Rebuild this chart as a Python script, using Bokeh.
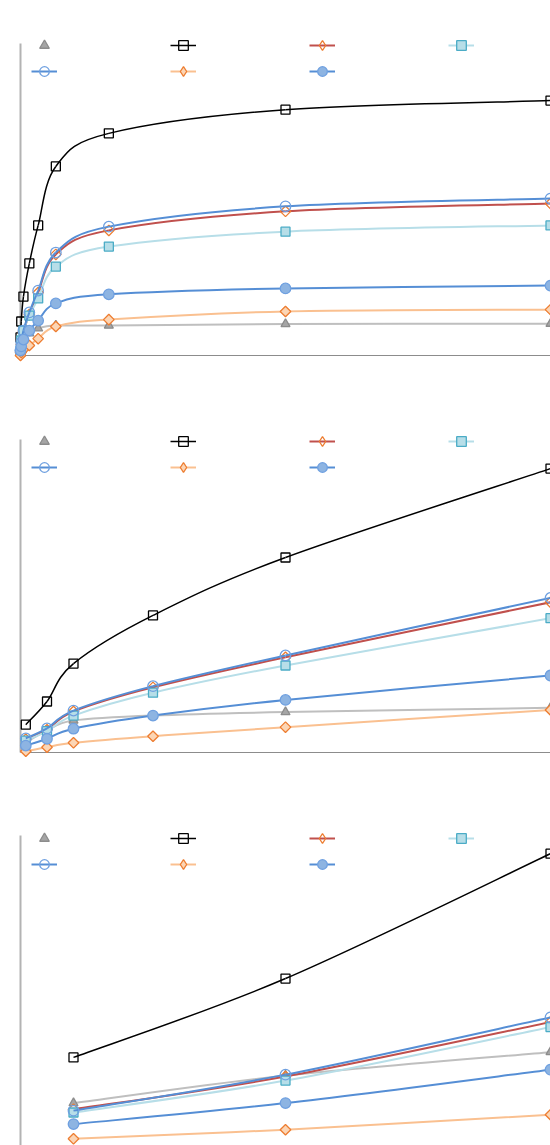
import numpy as np
from bokeh.plotting import figure
from bokeh.models import Legend, LegendItem, Range1d
from bokeh.layouts import column
from bokeh.embed import file_html
from bokeh.resources import INLINE

# ---------------- data ----------------
# panel 1 (time axis, left part very compressed)
t1 = [0, 0.5, 2, 6, 12, 24, 60, 180, 360]
p1_gray = [1.6, 3.2, 4.8, 7.1, 8.7, 9.6, 9.6, 10.1, 10.2]
p1_black = [5.8, 10.9, 18.9, 29.5, 41.7, 60.6, 71.2, 78.8, 81.7]
p1_red = [1.0, 3.5, 7.7, 13.1, 20.2, 32.4, 40.1, 46.2, 48.7]
p1_cyan = [1.6, 4.8, 8.0, 12.8, 18.3, 28.5, 34.9, 39.7, 41.7]
p1_blue_open = [1.6, 4.2, 8.0, 13.8, 20.8, 33.0, 41.3, 47.8, 50.3]
p1_orange = [0.0, 1.0, 1.9, 3.2, 5.4, 9.3, 11.5, 14.1, 14.7]
p1_blue_fill = [1.6, 2.9, 5.1, 8.0, 11.2, 16.7, 19.6, 21.5, 22.4]

# panel 2
t2 = [0.2, 1, 2, 5, 10, 20]
p2_gray = [3.2, 7.0, 10.2, 11.8, 12.9, 14.3]
p2_black = [8.9, 16.3, 28.4, 43.8, 62.3, 90.7]
p2_red = [4.2, 7.3, 13.1, 20.8, 30.4, 48.0]
p2_cyan = [3.8, 6.8, 11.8, 19.1, 27.8, 42.9]
p2_blue_open = [4.5, 7.7, 13.4, 21.2, 31.0, 49.4]
p2_orange = [0.4, 1.7, 3.1, 5.2, 8.1, 13.6]
p2_blue_fill = [2.2, 4.4, 7.6, 11.8, 16.8, 24.6]

# panel 3
t3 = [2, 10, 20]
p3_gray = [14.5, 23.3, 30.8]
p3_black = [29.1, 54.3, 94.2]
p3_red = [12.5, 23.0, 40.4]
p3_cyan = [11.5, 21.7, 38.8]
p3_blue_open = [12.1, 23.6, 41.9]
p3_orange = [3.1, 6.0, 10.8]
p3_blue_fill = [7.8, 14.5, 25.2]

AXIS_TOP = 100

# ---------------- styles ----------------
STYLES = [
    dict(line="#bfbfbf", lw=2, marker="triangle", size=9, fill="#a5a5a5", mline="#8c8c8c", angle=0,
         legend_line=False, legend_marker=None),
    dict(line="#000000", lw=1.5, marker="square", size=9, fill=None, mline="#000000", angle=0,
         legend_line=True, legend_marker=None),
    dict(line="#c0504d", lw=2, marker="square", size=7.5, fill=None, mline="#ed7d31", angle=np.pi / 4,
         legend_line=True, legend_marker="diamond"),
    dict(line="#b7dee8", lw=2, marker="square", size=9, fill="#b7dee8", mline="#4bacc6", angle=0,
         legend_line=True, legend_marker=None),
    dict(line="#558ed5", lw=2, marker="circle", size=10.5, fill=None, mline="#6fa0e0", angle=0,
         legend_line=True, legend_marker=None),
    dict(line="#fac090", lw=2, marker="square", size=7.5, fill="#fcd5b4", mline="#ed7d31", angle=np.pi / 4,
         legend_line=True, legend_marker="diamond"),
    dict(line="#558ed5", lw=2, marker="circle", size=10.5, fill="#8db4e2", mline="#6fa0e0", angle=0,
         legend_line=True, legend_marker=None),
]


def smooth(xs, ys):
    x = np.asarray(xs, float)
    y = np.asarray(ys, float)
    n = len(x)
    xp = np.concatenate([[x[0]], x, [x[-1]]])
    yp = np.concatenate([[y[0]], y, [y[-1]]])
    i = np.arange(n - 1)
    return dict(
        x0=xp[i + 1], y0=yp[i + 1], x1=xp[i + 2], y1=yp[i + 2],
        cx0=xp[i + 1] + (xp[i + 2] - xp[i]) / 6.0,
        cy0=yp[i + 1] + (yp[i + 2] - yp[i]) / 6.0,
        cx1=xp[i + 2] - (xp[i + 3] - xp[i + 1]) / 6.0,
        cy1=yp[i + 2] - (yp[i + 3] - yp[i + 1]) / 6.0,
    )


def make_panel(t, series, x_end, x_start, y_start, y_end, border_top, frame_h, border_bottom,
               legend_y, show_bottom_axis):
    p = figure(width=550, height=border_top + frame_h + border_bottom,
               x_range=Range1d(x_start, x_end), y_range=Range1d(y_start, y_end),
               output_backend="svg", toolbar_location=None,
               min_border_left=0, min_border_right=0,
               min_border_top=border_top, min_border_bottom=border_bottom)
    p.xaxis.visible = False
    p.yaxis.visible = False
    p.grid.visible = False
    p.outline_line_color = None
    p.background_fill_color = "white"

    # axis lines
    p.segment(x0=[0], y0=[0], x1=[0], y1=[AXIS_TOP], line_color="#b3b3b3", line_width=2)
    if show_bottom_axis:
        p.segment(x0=[0], y0=[0], x1=[x_end], y1=[0], line_color="#8c8c8c", line_width=1)

    items = []
    for ys, st in zip(series, STYLES):
        b = smooth(t, ys)
        p.bezier(**b, line_color=st["line"], line_width=st["lw"])
        legend_line = p.line(t, ys, line_color=st["line"], line_width=st["lw"], visible=False)
        sr = p.scatter(t, ys, marker=st["marker"], size=st["size"], angle=st["angle"],
                       fill_color=st["fill"], line_color=st["mline"], line_width=1.3)
        if st["legend_marker"]:
            lm = p.scatter(t, ys, marker=st["legend_marker"], size=11.5,
                           fill_color=st["fill"], line_color=st["mline"], line_width=1.3,
                           visible=False)
        else:
            lm = sr
        rends = [legend_line, lm] if st["legend_line"] else [lm]
        items.append(LegendItem(label=" ", renderers=rends))

    legend = Legend(items=items, orientation="horizontal", ncols=4,
                    location=(31, legend_y), glyph_width=26, glyph_height=24,
                    label_standoff=0, label_width=111, label_height=24, spacing=2,
                    padding=0, margin=0, border_line_color=None,
                    background_fill_alpha=0, inactive_fill_alpha=0,
                    label_text_font_size="8px")
    p.add_layout(legend)
    return p


# x scales: panel 1 1.4722 px/unit, panels 2-3 26.5 px/unit; left axis 20 px inside frame
p1 = make_panel(t1, [p1_gray, p1_black, p1_red, p1_cyan, p1_blue_open, p1_orange, p1_blue_fill],
                x_end=360, x_start=-20 / (530 / 360), y_start=-8 / 3.12, y_end=100 + 13 / 3.12,
                border_top=30, frame_h=333, border_bottom=37, legend_y=280, show_bottom_axis=True)
p2 = make_panel(t2, [p2_gray, p2_black, p2_red, p2_cyan, p2_blue_open, p2_orange, p2_blue_fill],
                x_end=20, x_start=-20 / 26.5, y_start=-8 / 3.13, y_end=100 + 13 / 3.13,
                border_top=26, frame_h=334, border_bottom=37, legend_y=281, show_bottom_axis=True)
p3 = make_panel(t3, [p3_gray, p3_black, p3_red, p3_cyan, p3_blue_open, p3_orange, p3_blue_fill],
                x_end=20, x_start=-20 / 26.5, y_start=100 + 13 / 3.13 - 323 / 3.13, y_end=100 + 13 / 3.13,
                border_top=25, frame_h=323, border_bottom=0, legend_y=269, show_bottom_axis=False)

layout = column(p1, p2, p3, spacing=0)
open("out.html", "w").write(file_html(layout, INLINE))
